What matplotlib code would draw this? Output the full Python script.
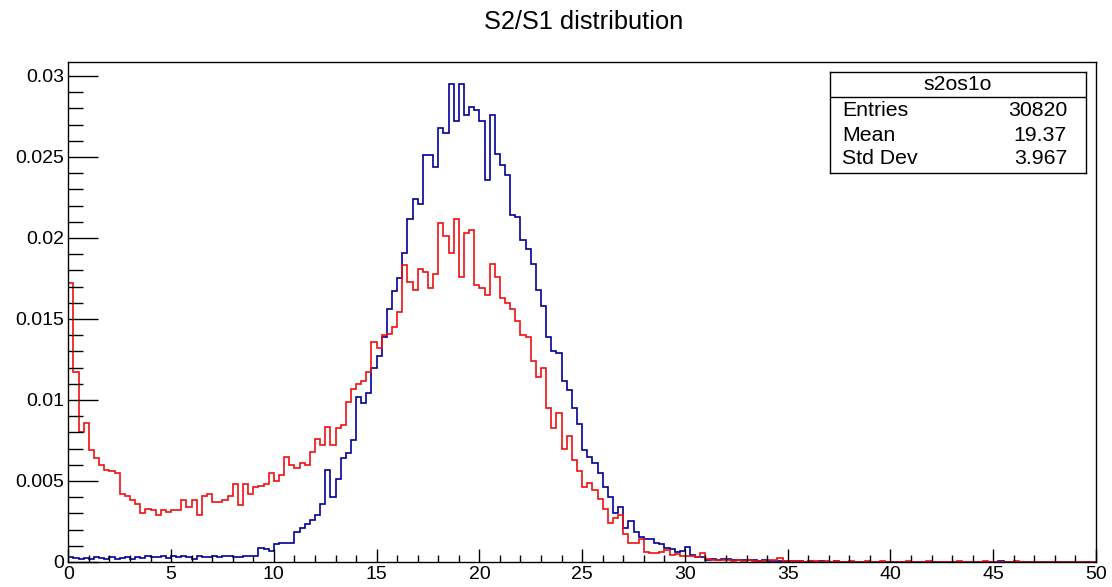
import numpy as np
from matplotlib import pyplot as plt
from matplotlib.ticker import MultipleLocator, FuncFormatter

plt.rcParams['font.family'] = ['Liberation Sans', 'DejaVu Sans']

# bin contents, in units of 1e-3 (200 bins from 0 to 50)
blue = [0.30, 0.25, 0.20, 0.25, 0.20, 0.30, 0.25, 0.20, 0.30, 0.20,
        0.25, 0.30, 0.20, 0.30, 0.25, 0.35, 0.30, 0.30, 0.40, 0.25,
        0.35, 0.30, 0.35, 0.30, 0.20, 0.35, 0.30, 0.30, 0.40, 0.30,
        0.35, 0.35, 0.30, 0.30, 0.35, 0.35, 0.40, 0.85, 0.80, 0.70,
        1.10, 1.20, 1.20, 1.15, 1.87, 2.07, 2.37, 2.60, 2.90, 3.60,
        5.70, 4.00, 5.10, 6.40, 6.70, 7.50, 10.2, 9.80, 10.4, 12.0,
        12.7, 13.9, 15.6, 16.7, 17.5, 19.1, 21.2, 22.4, 22.1, 25.1,
        25.1, 24.4, 26.8, 26.5, 29.5, 27.2, 29.5, 27.6, 28.1, 27.9,
        27.2, 23.6, 27.6, 25.2, 24.5, 23.9, 21.4, 21.3, 19.9, 19.3,
        18.4, 16.8, 15.8, 13.9, 13.0, 12.9, 11.2, 10.6, 9.50, 8.50,
        6.90, 6.50, 6.10, 5.50, 4.65, 4.00, 3.00, 3.40, 2.07, 2.50,
        1.87, 1.56, 1.45, 1.40, 1.15, 1.10, 0.84, 0.80, 0.64, 0.70,
        0.90, 0.43, 0.33, 0.29, 0.12, 0.16, 0.10, 0.20, 0.16, 0.15,
        0.12, 0.10, 0.12, 0.10, 0.08, 0.10, 0.06, 0.08, 0.05, 0.06,
        0.05, 0.04, 0.06, 0.03, 0.05, 0.03, 0.04, 0.03, 0.02, 0.04,
        0.03, 0.02, 0.03, 0.02, 0.03, 0.02, 0.02, 0.03, 0.02, 0.02,
        0.03, 0.02, 0.02, 0.02, 0.03, 0.02, 0.02, 0.02, 0.03, 0.02,
        0.02, 0.03, 0.02, 0.02, 0.02, 0.03, 0.02, 0.02, 0.02, 0.03,
        0.03, 0.06, 0.02, 0.02, 0.03, 0.02, 0.02, 0.02, 0.02, 0.03,
        0.02, 0.02, 0.02, 0.03, 0.02, 0.02, 0.02, 0.02, 0.02, 0.02]

red = [17.2, 11.7, 8.00, 8.60, 6.90, 6.40, 6.00, 5.70, 5.60, 5.50,
       4.20, 4.10, 3.80, 3.60, 3.00, 3.30, 3.20, 2.90, 3.20, 3.10,
       3.20, 3.20, 3.80, 3.40, 3.80, 2.90, 4.10, 4.20, 3.70, 3.70,
       3.80, 4.10, 4.80, 3.50, 4.80, 4.20, 4.60, 4.70, 4.80, 5.50,
       5.00, 5.40, 6.50, 6.00, 5.80, 6.10, 6.00, 6.80, 7.60, 7.20,
       8.35, 7.20, 8.25, 8.45, 9.90, 10.7, 11.0, 11.2, 11.75, 13.6,
       13.2, 14.0, 14.1, 14.5, 15.4, 18.3, 17.3, 16.8, 18.1, 17.9,
       16.9, 17.8, 20.9, 20.1, 19.1, 21.2, 17.6, 20.3, 20.5, 17.1,
       16.9, 16.5, 18.4, 17.6, 16.3, 16.0, 15.6, 14.9, 14.0, 13.9,
       12.4, 11.4, 12.0, 9.50, 8.25, 9.20, 7.00, 7.80, 6.30, 5.60,
       4.65, 4.85, 4.45, 3.90, 3.30, 2.40, 2.70, 2.90, 1.70, 1.20,
       1.20, 1.45, 0.60, 0.57, 0.57, 0.60, 0.75, 0.43, 0.50, 0.37,
       0.35, 0.40, 0.30, 0.55, 0.20, 0.12, 0.15, 0.10, 0.12, 0.08,
       0.10, 0.08, 0.10, 0.06, 0.08, 0.05, 0.10, 0.10, 0.25, 0.06,
       0.05, 0.04, 0.05, 0.03, 0.04, 0.05, 0.03, 0.04, 0.03, 0.05,
       0.03, 0.03, 0.04, 0.03, 0.03, 0.05, 0.03, 0.03, 0.04, 0.03,
       0.03, 0.03, 0.03, 0.04, 0.03, 0.03, 0.03, 0.04, 0.03, 0.03,
       0.03, 0.03, 0.03, 0.04, 0.03, 0.03, 0.03, 0.03, 0.04, 0.03,
       0.03, 0.03, 0.03, 0.03, 0.04, 0.03, 0.03, 0.03, 0.03, 0.03,
       0.03, 0.03, 0.03, 0.03, 0.03, 0.03, 0.03, 0.03, 0.03, 0.03]

x_min, x_max, n_bins = 0, 50, 200
stats_name = 's2os1o'
stats = [('Entries', '30820'), ('Mean', '19.37'), ('Std Dev', '3.967')]
title = 'S2/S1 distribution'

edges = np.linspace(x_min, x_max, n_bins + 1)
blue = np.array(blue) / 1000
red = np.array(red) / 1000

W, H = 1112, 587
fig = plt.figure(figsize=(W / 100, H / 100), dpi=100)
ax = fig.add_axes([68.3 / W, (H - 562) / H, (1096 - 68.3) / W, (562 - 62) / H])

ax.stairs(blue, edges, baseline=0, color='#000099', lw=1.2)
ax.stairs(red, edges, baseline=0, color='#ee1111', lw=1.2)

ax.set_xlim(x_min, x_max)
ax.set_ylim(0, 0.03086)
ax.xaxis.set_major_locator(MultipleLocator(5))
ax.xaxis.set_minor_locator(MultipleLocator(1))
ax.yaxis.set_major_locator(MultipleLocator(0.005))
ax.yaxis.set_minor_locator(MultipleLocator(0.001))
ax.yaxis.set_major_formatter(FuncFormatter(lambda v, p: '%g' % v))
ax.tick_params(axis='both', which='both', direction='in', labelsize=14,
               width=1, color='black')
ax.tick_params(axis='x', which='major', length=9.5, pad=3)
ax.tick_params(axis='x', which='minor', length=5)
ax.tick_params(axis='y', which='major', length=21.6, pad=3)
ax.tick_params(axis='y', which='minor', length=10.8)
for s in ax.spines.values():
    s.set_linewidth(1)
    s.set_color('black')

fig.text(584 / W, 1 - 22 / H, title, ha='center', va='center', fontsize=18.3)

# stats box
box = fig.add_axes([830 / W, (H - 173) / H, 256 / W, 101 / H])
box.set_xticks([])
box.set_yticks([])
box.set_xlim(0, 1)
box.set_ylim(0, 1)
for s in box.spines.values():
    s.set_linewidth(1)
    s.set_color('black')
box.axhline(0.752, color='black', lw=1)
box.text(0.5, 0.875, stats_name, ha='center', va='center', fontsize=15.3)
rows_y = [0.617, 0.376, 0.139]
for (label, value), yy in zip(stats, rows_y):
    box.text(0.047, yy, label, ha='left', va='center', fontsize=15.3)
    box.text(0.926, yy, value, ha='right', va='center', fontsize=15.3)

fig.savefig('out.png', dpi=100)
